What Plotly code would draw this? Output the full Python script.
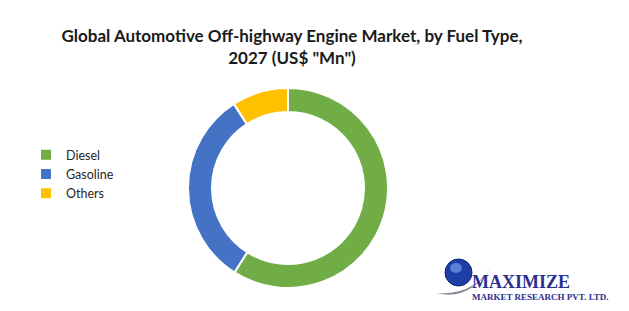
import plotly.graph_objects as go

labels = ["Diesel", "Gasoline", "Others"]
values = [59.0, 31.9, 9.1]
colors = ["#70AD47", "#4472C4", "#FFC000"]

title_text = "Global Automotive Off-highway Engine Market, by Fuel Type,<br>2027 (US$ \"Mn\")"

W, H = 629, 311
fig = go.Figure()
fig.add_trace(go.Pie(
    labels=labels, values=values, hole=0.76, sort=False, direction="clockwise",
    rotation=0, textinfo="none", hoverinfo="label+value+percent",
    marker=dict(colors=colors, line=dict(color="white", width=2)),
    domain=dict(x=[188/W, 388/W], y=[(H-288)/H, (H-88)/H]),
))

fig.update_layout(
    width=W, height=H, margin=dict(l=0, r=0, t=0, b=0),
    paper_bgcolor="white", plot_bgcolor="white",
    title=dict(text="<b>" + title_text + "</b>", x=292/W, xanchor="center",
               y=1-42/H, yanchor="top",
               font=dict(family="Lato", size=17, color="#1a1a1a")),
    legend=dict(x=26/W, y=1-140/H, xanchor="left", yanchor="top",
                font=dict(family="Lato", size=12.5, color="#262626"),
                itemwidth=30, bgcolor="rgba(0,0,0,0)"),
    showlegend=True,
)

# logo: globe + swoosh + text
fig.add_shape(type="path", xref="x", yref="y",
              path="M 436 293 Q 472 302 494 262 Q 476 296 436 293 Z",
              line=dict(width=0), fillcolor="#8e8e9c")
fig.add_shape(type="circle", xref="x", yref="y", x0=445, x1=472, y0=259, y1=286,
              fillcolor="#1f3fa8", line=dict(color="#0d2270", width=1))
fig.add_shape(type="circle", xref="x", yref="y", x0=450, x1=462, y0=263, y1=273,
              fillcolor="#6fa0e8", line=dict(width=0), opacity=0.7)
fig.update_xaxes(range=[0, W], visible=False, fixedrange=True)
fig.update_yaxes(range=[H, 0], visible=False, fixedrange=True)
fig.update_layout(xaxis=dict(domain=[0, 1]), yaxis=dict(domain=[0, 1]))
fig.add_annotation(x=470, y=294, xref="x", yref="y", text="<b>MAXIMIZE</b>",
                   showarrow=False, xanchor="left", yanchor="bottom",
                   font=dict(family="Liberation Serif", size=18, color="#2b2f8f"))
fig.add_annotation(x=470, y=304, xref="x", yref="y", text="<b>MARKET RESEARCH PVT. LTD.</b>",
                   showarrow=False, xanchor="left", yanchor="bottom",
                   font=dict(family="Liberation Serif", size=9, color="#2b2f8f"))

fig.write_html("out.html")
